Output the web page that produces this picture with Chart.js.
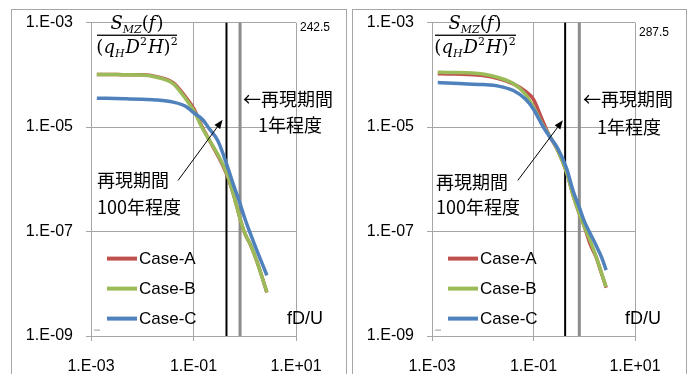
<!DOCTYPE html>
<html><head><meta charset="utf-8">
<script src="https://cdn.jsdelivr.net/npm/chart.js@4"></script>
<style>
html,body{margin:0;padding:0;background:#fff;}
#wrap{position:relative;width:696px;height:374px;overflow:hidden;background:#fff;}
.panel{position:absolute;border:1px solid #a6a6a6;top:9px;height:400px;box-sizing:border-box;}
canvas{position:absolute;left:0;top:0;}
</style></head><body>
<div id="wrap">
<div class="panel" style="left:11px;width:336px;"></div>
<div class="panel" style="left:352px;width:335px;"></div>
<canvas id="c1" width="696" height="374"></canvas>
<canvas id="c2" width="696" height="374"></canvas>
</div>
<script>
// ---- data ----
const freq = [0.0013,0.002,0.005,0.01,0.02,0.04,0.07,0.1,0.15,0.2,0.3,0.45,0.6,0.8,1.0,1.3,1.7,2.2,2.7];
const seriesNames = ['Case-A','Case-B','Case-C'];
const xTickValues = [1e-3,1e-1,1e1];
const yTickValues = [1e-9,1e-7,1e-5,1e-3];

// left panel (242.5)
const leftCaseA = [1.02e-4,1.02e-4,1.0e-4,1.0e-4,9.1e-5,7.1e-5,3.8e-5,2.3e-5,9.8e-6,5.8e-6,2.8e-6,1.2e-6,5.2e-7,1.85e-7,9.3e-8,5.5e-8,2.8e-8,1.3e-8,6.8e-9];
const leftCaseB = [1.02e-4,1.02e-4,1.0e-4,9.9e-5,8.9e-5,6.8e-5,3.5e-5,2.1e-5,9.4e-6,5.8e-6,2.96e-6,1.27e-6,5.2e-7,1.85e-7,9.3e-8,5.6e-8,2.8e-8,1.29e-8,6.9e-9];
const leftCaseC = [3.57e-5,3.55e-5,3.47e-5,3.4e-5,3.3e-5,3.0e-5,2.5e-5,1.9e-5,1.4e-5,9.5e-6,5.4e-6,1.87e-6,7.9e-7,3.55e-7,1.8e-7,8.9e-8,4.5e-8,2.4e-8,1.45e-8];
const leftReturn100 = 0.44;   // 再現期間100年程度
const leftReturn1 = 0.81;     // 再現期間1年程度
const leftArrow = [[0.050,9.5e-7],[0.37,1.38e-5]];

// right panel (287.5)
const rightCaseA = [1.05e-4,1.04e-4,1.02e-4,9.7e-5,8.5e-5,6.7e-5,4.8e-5,3.4e-5,1.35e-5,7.2e-6,3.6e-6,1.35e-6,5.0e-7,2.2e-7,1.26e-7,5.8e-8,3.3e-8,1.55e-8,8.4e-9];
const rightCaseB = [1.12e-4,1.11e-4,1.10e-4,1.04e-4,8.9e-5,6.8e-5,4.2e-5,2.4e-5,1.12e-5,7.2e-6,3.6e-6,1.35e-6,5.0e-7,2.2e-7,1.26e-7,6.8e-8,3.4e-8,1.58e-8,8.7e-9];
const rightCaseC = [7.1e-5,7.0e-5,6.7e-5,6.5e-5,6.1e-5,5.0e-5,3.4e-5,2.2e-5,1.07e-5,6.9e-6,3.9e-6,1.6e-6,6.1e-7,2.9e-7,1.58e-7,9.3e-8,5.5e-8,3.2e-8,1.82e-8];
const rightReturn100 = 0.42;
const rightReturn1 = 0.80;
const rightArrow = [[0.049,9.5e-7],[0.38,1.35e-5]];

// ---- styling ----
const colors = ['#C0504D','#9BBB59','#4F81BD'];
const gridColor = '#a6a6a6';
const latin = "'Liberation Sans', Arial, sans-serif";
const cjk = "'Noto Sans CJK JP', 'Noto Sans', sans-serif";
const mathFont = "'DejaVu Serif', 'Liberation Serif', serif";

function fmtTick(v){
  const e = Math.round(Math.log10(v));
  const s = e < 0 ? '-' : '+';
  return '1.E' + s + String(Math.abs(e)).padStart(2,'0');
}

function drawRich(ctx, pieces, cx, baseline){
  let w = 0;
  pieces.forEach(p=>{ctx.font=p.font; p.w=ctx.measureText(p.t).width + (p.sp||0); w+=p.w;});
  let x = cx - w/2;
  ctx.textAlign='left'; ctx.textBaseline='alphabetic';
  pieces.forEach(p=>{ctx.font=p.font; ctx.fillText(p.t, x, baseline + (p.dy||0)); x+=p.w;});
  return w;
}

function annotPlugin(p){
  return {
    id:'annot',
    afterDatasetsDraw(chart){
      const ctx = chart.ctx, a = chart.chartArea;
      const xs = chart.scales.x, ys = chart.scales.y;
      ctx.save();
      ctx.fillStyle = '#000';
      // arrow
      const x0 = xs.getPixelForValue(p.arrow[0][0]), y0 = ys.getPixelForValue(p.arrow[0][1]);
      const x1 = xs.getPixelForValue(p.arrow[1][0]), y1 = ys.getPixelForValue(p.arrow[1][1]);
      const ang = Math.atan2(y1-y0, x1-x0), hl = 9, hw = 3.5;
      const bx = x1 - hl*Math.cos(ang), by = y1 - hl*Math.sin(ang);
      ctx.strokeStyle='#000'; ctx.lineWidth=1;
      ctx.beginPath(); ctx.moveTo(x0,y0); ctx.lineTo(bx,by); ctx.stroke();
      ctx.beginPath(); ctx.moveTo(x1,y1);
      ctx.lineTo(bx + hw*Math.sin(ang), by - hw*Math.cos(ang));
      ctx.lineTo(bx - hw*Math.sin(ang), by + hw*Math.cos(ang));
      ctx.closePath(); ctx.fill();

      // Japanese labels
      ctx.font = '18px ' + cjk; ctx.textBaseline='middle';
      ctx.textAlign='left';
      ctx.fillText('←再現期間', a.left + p.t1x, a.top + 77);
      ctx.textAlign='center';
      ctx.fillText('1年程度', a.left + p.t2x, a.top + p.t2y);
      ctx.textAlign='left';
      ctx.fillText('再現期間', a.left + p.t3x, a.top + p.t3y);
      ctx.fillText('100年程度', a.left + p.t3x, a.top + 185);

      // axis title & case number
      ctx.font = '18px ' + latin;
      ctx.fillText('fD/U', a.left + p.fdx, a.top + 296);
      ctx.font = '12px ' + latin;
      ctx.fillText(p.caseLabel, a.left + p.clx, a.top + p.cly);

      // formula
      const big = 'italic 18px ' + mathFont, up = '18px ' + mathFont;
      const sm = 'italic 11px ' + mathFont, smu = '11px ' + mathFont;
      const cx = a.left + p.fx;
      drawRich(ctx, [
        {t:'S',font:big},{t:'MZ',font:sm,dy:4},{t:'(',font:up},{t:'f',font:big,sp:1},{t:')',font:up}
      ], cx, a.top + 6);
      drawRich(ctx, [
        {t:'(',font:up},{t:'q',font:big},{t:'H',font:sm,dy:4,sp:1},{t:'D',font:big},{t:'2',font:smu,dy:-8,sp:1},
        {t:'H',font:big},{t:')',font:up},{t:'2',font:smu,dy:-8}
      ], cx, a.top + 30);
      ctx.fillStyle='#000';
      ctx.fillRect(a.left + p.barL, a.top + 12, p.barW, 1.3);

      // legend
      const names = seriesNames;
      for (let i=0;i<3;i++){
        const yy = a.top + 236 + i*30;
        ctx.strokeStyle = colors[i]; ctx.lineWidth = 4; ctx.lineCap='butt';
        ctx.beginPath(); ctx.moveTo(a.left+16, yy); ctx.lineTo(a.left+46, yy); ctx.stroke();
        ctx.fillStyle='#000'; ctx.font = '17px ' + latin; ctx.textAlign='left'; ctx.textBaseline='middle';
        ctx.fillText(names[i], a.left + 48, yy + 1);
      }
      // small stray mark near bottom-left
      ctx.strokeStyle='#999'; ctx.lineWidth=1;
      ctx.beginPath(); ctx.moveTo(a.left+3, a.top+307.5); ctx.lineTo(a.left+9, a.top+307.5); ctx.stroke();
      ctx.restore();
    }
  };
}

function makeChart(p){
  const ds = [p.A,p.B,p.C].map((arr,i)=>({
    label: seriesNames[i],
    data: freq.map((f,j)=>({x:f, y:arr[j]})),
    borderColor: colors[i], borderWidth: 3.5, cubicInterpolationMode:'monotone',
    pointRadius:0, fill:false, order: 3-i
  }));
  ds.push({label:'100yr', data:[{x:p.black,y:1e-9},{x:p.black,y:1e-3}], borderColor:'#000', borderWidth:2, pointRadius:0, tension:0, order:6});
  ds.push({label:'1yr', data:[{x:p.gray,y:1e-9},{x:p.gray,y:1e-3}], borderColor:'#8c8c8c', borderWidth:3, pointRadius:0, tension:0, order:5});
  new Chart(document.getElementById(p.id), {
    type:'line',
    data:{datasets:ds},
    options:{
      responsive:false, animation:false, devicePixelRatio:1,
      layout:{padding:{left:p.left-80, right:696-p.right, top:22, bottom:0}},
      plugins:{legend:{display:false}, tooltip:{enabled:false}},
      scales:{
        x:{type:'logarithmic', min:1e-3, max:10,
           afterBuildTicks:s=>{s.ticks = xTickValues.map(v=>({value:v}));},
           afterFit:s=>{s.height = 38;},
           grid:{color:gridColor, lineWidth:1, tickLength:5, drawTicks:true},
           border:{color:gridColor, width:1},
           ticks:{callback:v=>fmtTick(v), color:'#000', font:{family:latin, size:16}, padding:16, maxRotation:0, autoSkip:false}},
        y:{type:'logarithmic', min:1e-9, max:1e-3,
           afterBuildTicks:s=>{s.ticks = yTickValues.map(v=>({value:v}));},
           afterFit:s=>{s.width = 80;},
           grid:{color:gridColor, lineWidth:1, tickLength:5, drawTicks:true},
           border:{color:gridColor, width:1},
           ticks:{callback:v=>fmtTick(v), color:'#000', font:{family:latin, size:16}, padding:13, autoSkip:false}}
      }
    },
    plugins:[annotPlugin(p)]
  });
}

makeChart({id:'c1', left:91, right:296, A:leftCaseA, B:leftCaseB, C:leftCaseC,
  black:leftReturn100, gray:leftReturn1, arrow:leftArrow, caseLabel:'242.5',
  t1x:152, t2x:199, t2y:103, t3x:6, t3y:158, fdx:196, clx:209, cly:5, fx:46, barL:6, barW:80});
makeChart({id:'c2', left:432, right:635, A:rightCaseA, B:rightCaseB, C:rightCaseC,
  black:rightReturn100, gray:rightReturn1, arrow:rightArrow, caseLabel:'287.5',
  t1x:151, t2x:197, t2y:105, t3x:4, t3y:160, fdx:193, clx:207, cly:10, fx:43, barL:3, barW:81});
</script>
</body></html>
